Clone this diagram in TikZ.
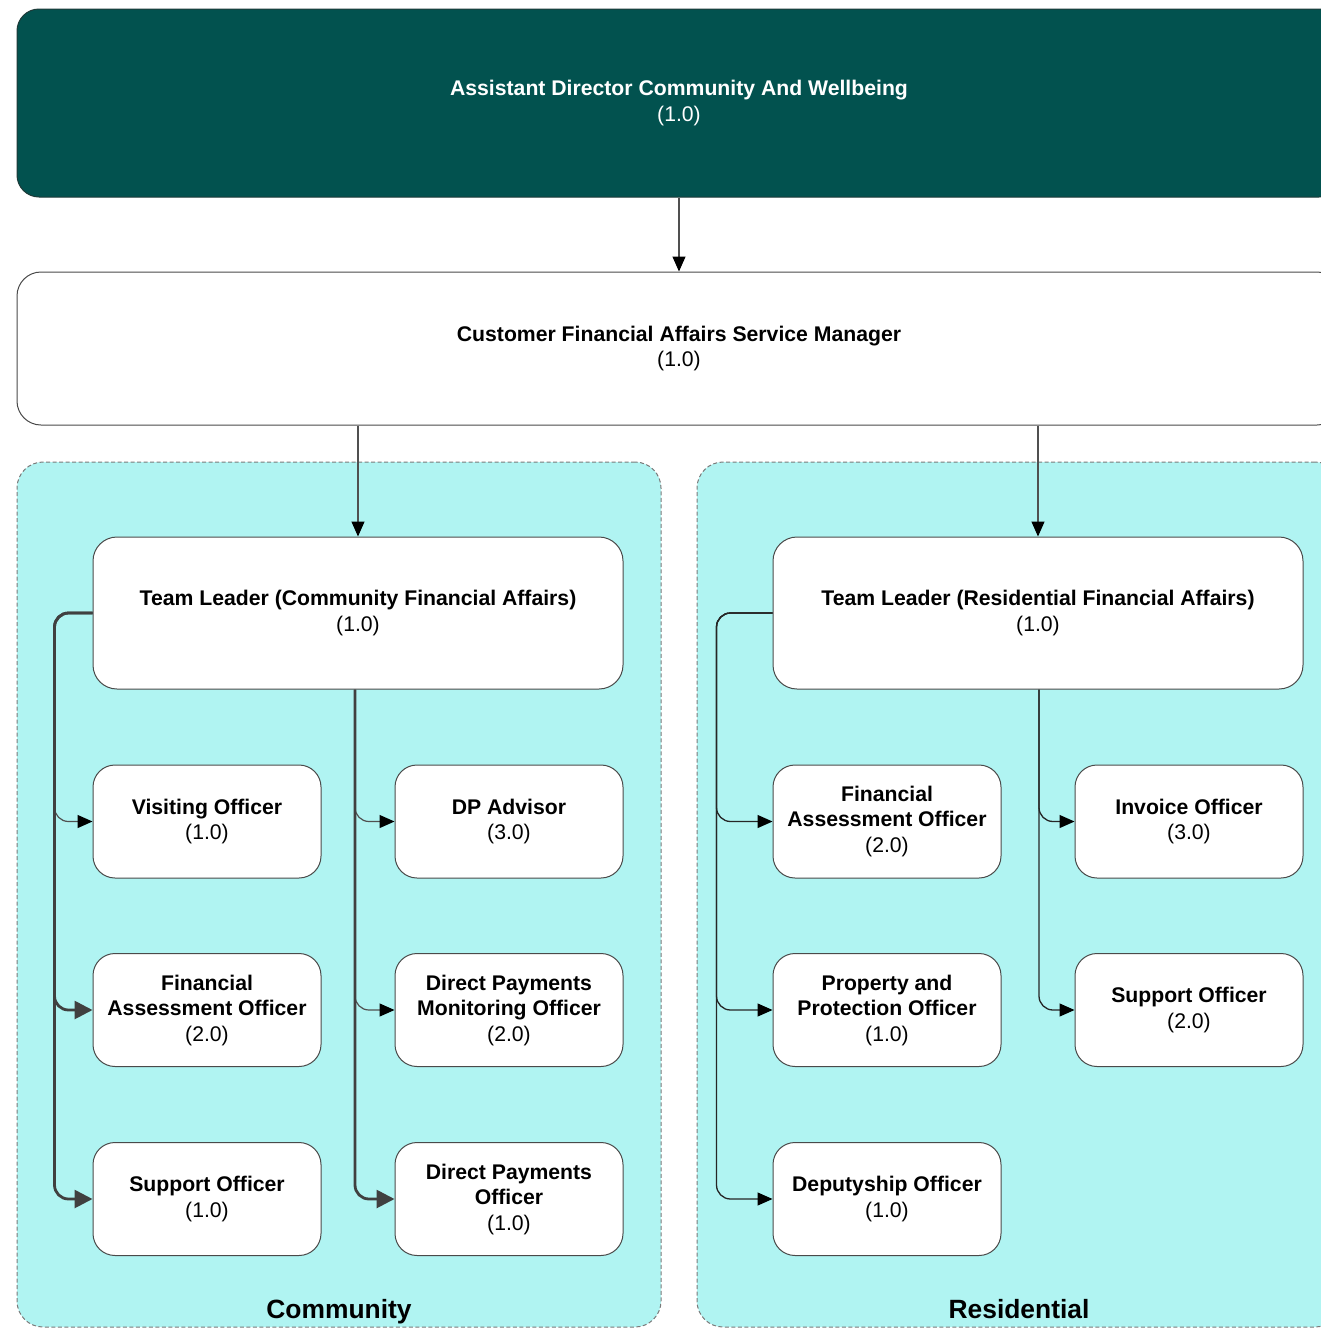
\documentclass[tikz,border=0pt]{standalone}
\usepackage{fontspec}
\setmainfont{Liberation Sans}
\usetikzlibrary{arrows.meta}
\definecolor{darkteal}{HTML}{02524F}
\definecolor{topline}{HTML}{1E3A38}
\definecolor{grpfill}{HTML}{B0F4F2}
\definecolor{grpline}{HTML}{7A7A7A}
\definecolor{boxline}{HTML}{4A4A4A}
\definecolor{connthin}{HTML}{505050}
\definecolor{connthick}{HTML}{404040}
\begin{document}
\begin{tikzpicture}[x=1pt,y=-1pt,
  box/.style={draw=boxline, line width=1pt, fill=white, rounded corners=22pt,
    align=center, inner sep=0pt, font=\fontsize{21.2}{25.5}\selectfont},
  childbox/.style={box, minimum width=228pt, minimum height=113pt},
  tlbox/.style={box, minimum width=530pt, minimum height=152pt, rounded corners=24pt},
  grp/.style={draw=grpline, dash pattern=on 4pt off 2.5pt, fill=grpfill,
    line width=1pt, rounded corners=26pt, inner sep=0pt},
  grplbl/.style={font=\fontsize{26.4}{30}\selectfont\bfseries, inner sep=0pt, anchor=base},
  thinc/.style={draw=connthin, line width=1.2pt, rounded corners=14pt,
    -{Triangle[length=15pt,width=13pt,color=black]}},
  resc/.style={draw=black!85, line width=1.3pt, rounded corners=14pt,
    -{Triangle[length=15pt,width=13pt,color=black]}},
  thickc/.style={draw=connthick, line width=2.8pt, rounded corners=14pt,
    -{Triangle[length=18pt,width=18pt,color=connthick]}},
]
\useasboundingbox (0,0) rectangle (1321,1328);
\clip (0,0) rectangle (1321,1328);

% groups
\node[grp, minimum width=644pt, minimum height=865pt] (commgrp) at (339,894.5) {};
\node[grp, minimum width=644pt, minimum height=865pt] (resgrp) at (1019,894.5) {};
\node[grplbl] (commlbl) at (339,1318.5) {Community};
\node[grplbl] (reslbl) at (1019,1318.5) {Residential};

% top boxes
\node[box, fill=darkteal, draw=topline, text=white, minimum width=1324pt,
  minimum height=188pt, rounded corners=22pt] (top) at (679,103)
  {\textbf{Assistant Director Community And Wellbeing}\\(1.0)};
\node[box, minimum width=1324pt, minimum height=153pt, rounded corners=24pt]
  (mgr) at (679,348.5)
  {\textbf{Customer Financial Affairs Service Manager}\\(1.0)};

% team leaders
\node[tlbox] (tlc) at (358,613)
  {\textbf{Team Leader (Community Financial Affairs)}\\(1.0)};
\node[tlbox] (tlr) at (1038,613)
  {\textbf{Team Leader (Residential Financial Affairs)}\\(1.0)};

% community children
\node[childbox] (vo) at (207,821.5) {\textbf{Visiting Officer}\\(1.0)};
\node[childbox] (cfao) at (207,1010) {\textbf{Financial}\\\textbf{Assessment Officer}\\(2.0)};
\node[childbox] (cso) at (207,1199) {\textbf{Support Officer}\\(1.0)};
\node[childbox] (dpa) at (509,821.5) {\textbf{DP Advisor}\\(3.0)};
\node[childbox] (dpmo) at (509,1010) {\textbf{Direct Payments}\\\textbf{Monitoring Officer}\\(2.0)};
\node[childbox] (dpo) at (509,1199) {\textbf{Direct Payments}\\\textbf{Officer}\\(1.0)};

% residential children
\node[childbox] (rfao) at (887,821.5) {\textbf{Financial}\\\textbf{Assessment Officer}\\(2.0)};
\node[childbox] (ppo) at (887,1010) {\textbf{Property and}\\\textbf{Protection Officer}\\(1.0)};
\node[childbox] (dso) at (887,1199) {\textbf{Deputyship Officer}\\(1.0)};
\node[childbox] (io) at (1189,821.5) {\textbf{Invoice Officer}\\(3.0)};
\node[childbox] (rso) at (1189,1010) {\textbf{Support Officer}\\(2.0)};

% connectors from top
\draw[thinc, rounded corners=0pt] (top.south) -- (mgr.north);
\draw[thinc, rounded corners=0pt] (mgr.south -| tlc.north) -- (tlc.north);
\draw[thinc, rounded corners=0pt] (mgr.south -| tlr.north) -- (tlr.north);

% community connectors
\draw[thinc] (tlc.west) -- ++(-38,0) |- (vo.west);
\draw[thickc] (tlc.west) -- ++(-38,0) |- (cfao.west);
\draw[thickc] (tlc.west) -- ++(-38,0) |- (cso.west);
\draw[thinc] ([xshift=-3pt]tlc.south) |- (dpa.west);
\draw[thinc] ([xshift=-3pt]tlc.south) |- (dpmo.west);
\draw[thickc] ([xshift=-3pt]tlc.south) |- (dpo.west);

% residential connectors
\draw[resc] (tlr.west) -- ++(-56,0) |- (rfao.west);
\draw[resc] (tlr.west) -- ++(-56,0) |- (ppo.west);
\draw[resc] (tlr.west) -- ++(-56,0) |- (dso.west);
\draw[resc] ([xshift=1pt]tlr.south) |- (io.west);
\draw[resc] ([xshift=1pt]tlr.south) |- (rso.west);
\end{tikzpicture}
\end{document}
